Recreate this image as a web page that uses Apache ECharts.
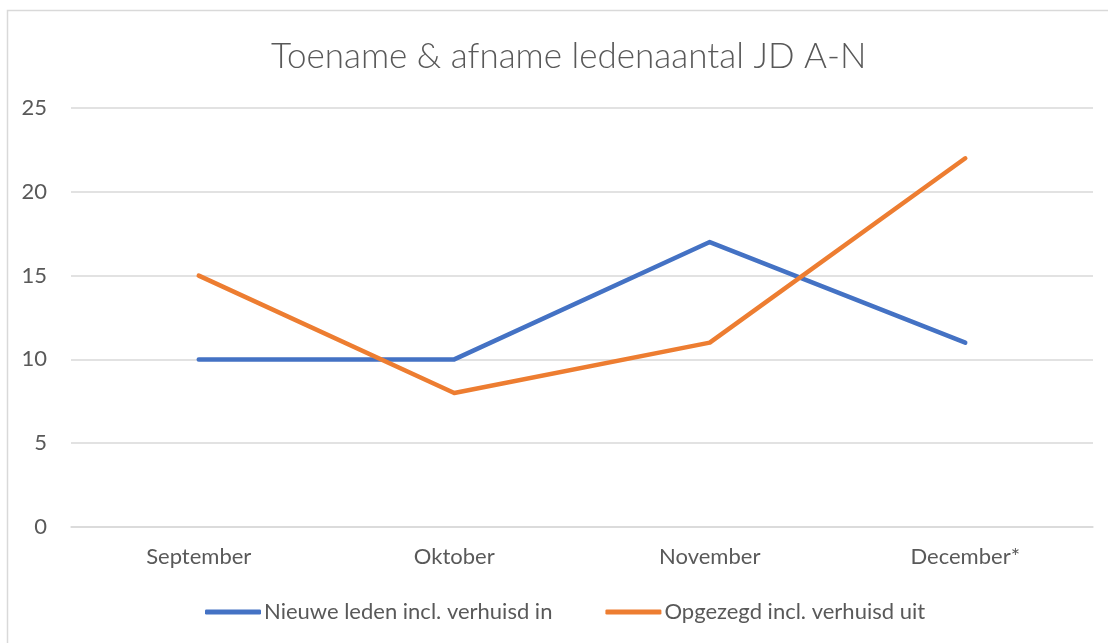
<!DOCTYPE html>
<html>
<head>
<meta charset="utf-8">
<script src="https://cdn.jsdelivr.net/npm/echarts@6/dist/echarts.min.js"></script>
<style>
html,body{margin:0;padding:0;background:#fff;}
#chart{width:1108px;height:643px;}
</style>
</head>
<body>
<div id="chart"></div>
<script>
const categories = ['September', 'Oktober', 'November', 'December*'];
const nieuweLeden = [10, 10, 17, 11];
const opgezegd = [15, 8, 11, 22];
const seriesNames = ['Nieuwe leden incl. verhuisd in', 'Opgezegd incl. verhuisd uit'];

const chart = echarts.init(document.getElementById('chart'));
const txt = '#595959';
const font = 'Lato, "Open Sans", sans-serif';
chart.setOption({
  animation: false,
  backgroundColor: '#fff',
  graphic: [{
    type: 'rect', shape: {x: 7.5, y: 10.5, width: 1120, height: 660},
    style: {fill: 'none', stroke: '#d9d9d9', lineWidth: 1.5}, silent: true
  }],
  title: {
    text: 'Toename & afname ledenaantal JD A-N',
    left: 266, top: 34,
    textStyle: {color: txt, fontFamily: font, fontWeight: 300, fontSize: 35}
  },
  legend: {
    bottom: 15, left: 200,
    itemWidth: 56, itemHeight: 5, itemGap: 53,
    icon: 'roundRect',
    textStyle: {color: txt, fontFamily: font, fontSize: 22, padding: [0,0,0,-2]},
    data: seriesNames
  },
  grid: {left: 71, right: 15, top: 108, bottom: 116},
  xAxis: {
    type: 'category', data: categories, boundaryGap: true,
    axisLine: {show: true, lineStyle: {color: '#d9d9d9', width: 1.5}},
    axisTick: {show: false},
    axisLabel: {color: txt, fontFamily: font, fontSize: 22, margin: 19}
  },
  yAxis: {
    type: 'value', min: 0, max: 25, interval: 5,
    axisLine: {show: false}, axisTick: {show: false},
    splitLine: {lineStyle: {color: '#d9d9d9', width: 1.5}},
    axisLabel: {color: txt, fontFamily: font, fontSize: 22, margin: 24}
  },
  series: [
    {name: seriesNames[0], type: 'line', data: nieuweLeden, symbol: 'none',
     lineStyle: {color: '#4472C4', width: 4.5, cap: 'round', join: 'round'}, itemStyle: {color: '#4472C4'}},
    {name: seriesNames[1], type: 'line', data: opgezegd, symbol: 'none',
     lineStyle: {color: '#ED7D31', width: 4.5, cap: 'round', join: 'round'}, itemStyle: {color: '#ED7D31'}}
  ]
});
</script>
</body>
</html>
